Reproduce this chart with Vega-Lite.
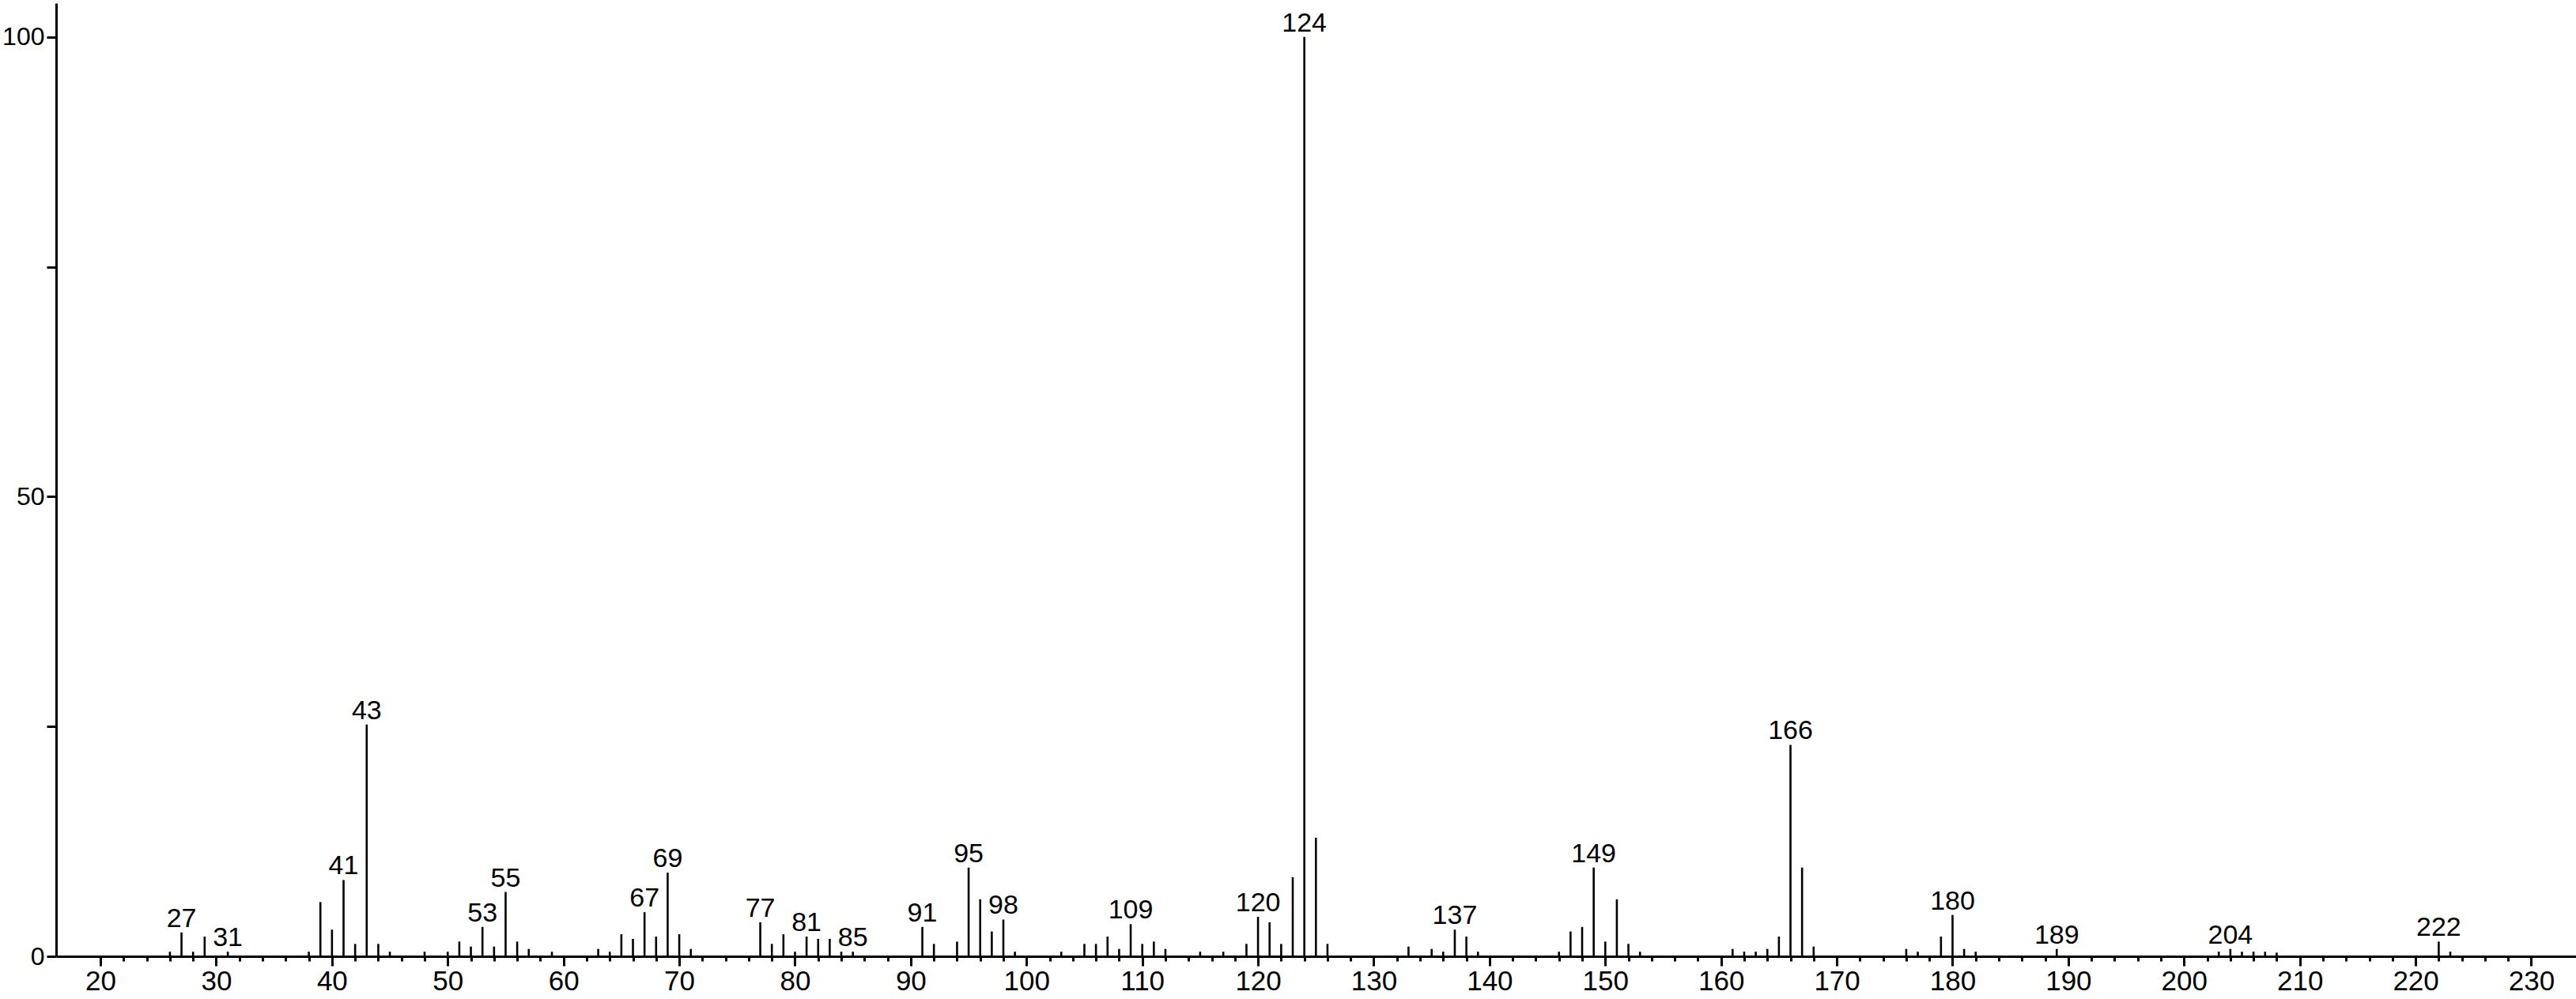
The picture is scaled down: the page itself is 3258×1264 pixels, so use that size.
{
  "$schema": "https://vega.github.io/schema/vega-lite/v6.json",
  "width": 3187,
  "height": 1206,
  "autosize": {"type": "none"},
  "padding": {"left": 71, "top": 4, "right": 0, "bottom": 54},
  "background": "white",
  "config": {
    "view": {"stroke": null},
    "font": "Liberation Sans",
    "axis": {"domainColor": "black", "domainWidth": 3, "tickColor": "black", "tickWidth": 3, "labelColor": "black", "labelFont": "Liberation Sans", "labelFontSize": 35, "grid": false, "title": null}
  },
  "data": {
    "values": [
      {"mz": 26, "intensity": 0.5, "label": ""},
      {"mz": 27, "intensity": 2.6, "label": "27"},
      {"mz": 28, "intensity": 0.5, "label": ""},
      {"mz": 29, "intensity": 2.15, "label": ""},
      {"mz": 31, "intensity": 0.5, "label": "31"},
      {"mz": 38, "intensity": 0.5, "label": ""},
      {"mz": 39, "intensity": 5.9, "label": ""},
      {"mz": 40, "intensity": 2.9, "label": ""},
      {"mz": 41, "intensity": 8.3, "label": "41"},
      {"mz": 42, "intensity": 1.35, "label": ""},
      {"mz": 43, "intensity": 25.2, "label": "43"},
      {"mz": 44, "intensity": 1.35, "label": ""},
      {"mz": 45, "intensity": 0.5, "label": ""},
      {"mz": 48, "intensity": 0.5, "label": ""},
      {"mz": 50, "intensity": 0.5, "label": ""},
      {"mz": 51, "intensity": 1.6, "label": ""},
      {"mz": 52, "intensity": 1.06, "label": ""},
      {"mz": 53, "intensity": 3.2, "label": "53"},
      {"mz": 54, "intensity": 1.06, "label": ""},
      {"mz": 55, "intensity": 7.0, "label": "55"},
      {"mz": 56, "intensity": 1.6, "label": ""},
      {"mz": 57, "intensity": 0.8, "label": ""},
      {"mz": 59, "intensity": 0.5, "label": ""},
      {"mz": 63, "intensity": 0.8, "label": ""},
      {"mz": 64, "intensity": 0.5, "label": ""},
      {"mz": 65, "intensity": 2.4, "label": ""},
      {"mz": 66, "intensity": 1.9, "label": ""},
      {"mz": 67, "intensity": 4.8, "label": "67"},
      {"mz": 68, "intensity": 2.15, "label": ""},
      {"mz": 69, "intensity": 9.1, "label": "69"},
      {"mz": 70, "intensity": 2.4, "label": ""},
      {"mz": 71, "intensity": 0.8, "label": ""},
      {"mz": 77, "intensity": 3.7, "label": "77"},
      {"mz": 78, "intensity": 1.35, "label": ""},
      {"mz": 79, "intensity": 2.4, "label": ""},
      {"mz": 80, "intensity": 0.5, "label": ""},
      {"mz": 81, "intensity": 2.15, "label": "81"},
      {"mz": 82, "intensity": 1.9, "label": ""},
      {"mz": 83, "intensity": 1.9, "label": ""},
      {"mz": 84, "intensity": 0.5, "label": ""},
      {"mz": 85, "intensity": 0.5, "label": "85"},
      {"mz": 91, "intensity": 3.2, "label": "91"},
      {"mz": 92, "intensity": 1.35, "label": ""},
      {"mz": 94, "intensity": 1.6, "label": ""},
      {"mz": 95, "intensity": 9.65, "label": "95"},
      {"mz": 96, "intensity": 6.2, "label": ""},
      {"mz": 97, "intensity": 2.7, "label": ""},
      {"mz": 98, "intensity": 4.0, "label": "98"},
      {"mz": 99, "intensity": 0.5, "label": ""},
      {"mz": 103, "intensity": 0.5, "label": ""},
      {"mz": 105, "intensity": 1.35, "label": ""},
      {"mz": 106, "intensity": 1.35, "label": ""},
      {"mz": 107, "intensity": 2.15, "label": ""},
      {"mz": 108, "intensity": 0.8, "label": ""},
      {"mz": 109, "intensity": 3.5, "label": "109"},
      {"mz": 110, "intensity": 1.35, "label": ""},
      {"mz": 111, "intensity": 1.6, "label": ""},
      {"mz": 112, "intensity": 0.8, "label": ""},
      {"mz": 115, "intensity": 0.5, "label": ""},
      {"mz": 117, "intensity": 0.5, "label": ""},
      {"mz": 119, "intensity": 1.35, "label": ""},
      {"mz": 120, "intensity": 4.3, "label": "120"},
      {"mz": 121, "intensity": 3.7, "label": ""},
      {"mz": 122, "intensity": 1.35, "label": ""},
      {"mz": 123, "intensity": 8.6, "label": ""},
      {"mz": 124, "intensity": 100, "label": "124"},
      {"mz": 125, "intensity": 12.9, "label": ""},
      {"mz": 126, "intensity": 1.35, "label": ""},
      {"mz": 133, "intensity": 1.06, "label": ""},
      {"mz": 135, "intensity": 0.8, "label": ""},
      {"mz": 136, "intensity": 0.5, "label": ""},
      {"mz": 137, "intensity": 2.9, "label": "137"},
      {"mz": 138, "intensity": 2.15, "label": ""},
      {"mz": 139, "intensity": 0.5, "label": ""},
      {"mz": 146, "intensity": 0.5, "label": ""},
      {"mz": 147, "intensity": 2.7, "label": ""},
      {"mz": 148, "intensity": 3.2, "label": ""},
      {"mz": 149, "intensity": 9.65, "label": "149"},
      {"mz": 150, "intensity": 1.6, "label": ""},
      {"mz": 151, "intensity": 6.2, "label": ""},
      {"mz": 152, "intensity": 1.35, "label": ""},
      {"mz": 153, "intensity": 0.5, "label": ""},
      {"mz": 161, "intensity": 0.8, "label": ""},
      {"mz": 162, "intensity": 0.5, "label": ""},
      {"mz": 163, "intensity": 0.5, "label": ""},
      {"mz": 164, "intensity": 0.8, "label": ""},
      {"mz": 165, "intensity": 2.15, "label": ""},
      {"mz": 166, "intensity": 23.0, "label": "166"},
      {"mz": 167, "intensity": 9.65, "label": ""},
      {"mz": 168, "intensity": 1.06, "label": ""},
      {"mz": 176, "intensity": 0.8, "label": ""},
      {"mz": 177, "intensity": 0.5, "label": ""},
      {"mz": 179, "intensity": 2.15, "label": ""},
      {"mz": 180, "intensity": 4.5, "label": "180"},
      {"mz": 181, "intensity": 0.8, "label": ""},
      {"mz": 182, "intensity": 0.5, "label": ""},
      {"mz": 189, "intensity": 0.8, "label": "189"},
      {"mz": 203, "intensity": 0.5, "label": ""},
      {"mz": 204, "intensity": 0.8, "label": "204"},
      {"mz": 205, "intensity": 0.5, "label": ""},
      {"mz": 206, "intensity": 0.5, "label": ""},
      {"mz": 207, "intensity": 0.5, "label": ""},
      {"mz": 208, "intensity": 0.4, "label": ""},
      {"mz": 222, "intensity": 1.6, "label": "222"},
      {"mz": 223, "intensity": 0.5, "label": ""}
    ]
  },
  "layer": [
    {
      "mark": {"type": "rule", "color": "black", "strokeWidth": 2.6},
      "encoding": {
        "x": {
          "field": "mz", "type": "quantitative",
          "scale": {"domain": [16.17, 233.86], "nice": false, "zero": false},
          "axis": {
            "values": [20,22,24,26,28,30,32,34,36,38,40,42,44,46,48,50,52,54,56,58,60,62,64,66,68,70,72,74,76,78,80,82,84,86,88,90,92,94,96,98,100,102,104,106,108,110,112,114,116,118,120,122,124,126,128,130,132,134,136,138,140,142,144,146,148,150,152,154,156,158,160,162,164,166,168,170,172,174,176,178,180,182,184,186,188,190,192,194,196,198,200,202,204,206,208,210,212,214,216,218,220,222,224,226,228,230],
            "tickCount": 1000,
            "format": "d",
            "labelExpr": "datum.value % 10 === 0 ? datum.label : ''",
            "tickSize": {"condition": {"test": "datum.value % 10 === 0", "value": 12}, "value": 6},
            "labelPadding": 2,
            "labelOverlap": false,
            "labelFlush": false
          }
        },
        "y": {
          "field": "intensity", "type": "quantitative",
          "scale": {"domain": [0, 103.67], "nice": false},
          "axis": {
            "values": [0, 25, 50, 75, 100],
            "tickCount": 100,
            "format": "d",
            "labelExpr": "datum.value % 50 === 0 ? datum.label : ''",
            "labelFontSize": 32,
            "tickSize": 12,
            "labelPadding": 3,
            "labelOverlap": false,
            "labelFlush": false
          }
        },
        "y2": {"datum": 0}
      }
    },
    {
      "mark": {"type": "text", "color": "black", "font": "Liberation Sans", "fontSize": 34, "baseline": "alphabetic", "align": "center", "dy": -7},
      "encoding": {
        "x": {"field": "mz", "type": "quantitative"},
        "y": {"field": "intensity", "type": "quantitative"},
        "text": {"field": "label"}
      }
    }
  ]
}
